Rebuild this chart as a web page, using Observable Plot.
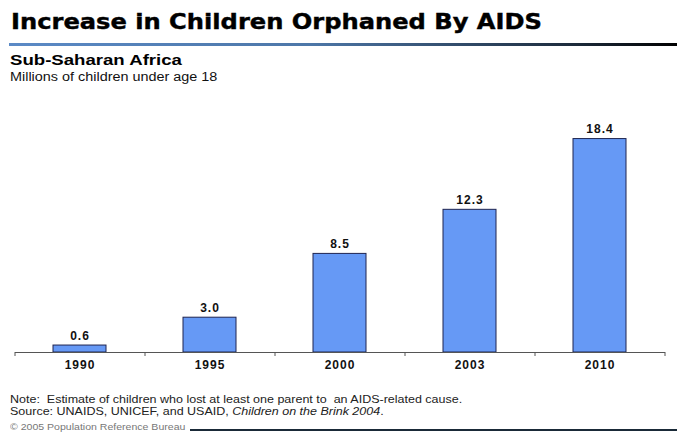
<!DOCTYPE html>
<html>
<head>
<meta charset="utf-8">
<script src="https://cdn.jsdelivr.net/npm/d3@7"></script>
<script src="https://cdn.jsdelivr.net/npm/@observablehq/plot@0.6"></script>
<style>
  html, body { margin: 0; padding: 0; background: #fff; }
  body { width: 677px; height: 432px; position: relative; overflow: hidden; font-family: "Liberation Sans", Arial, sans-serif; color: #000; }
  .abs { position: absolute; white-space: nowrap; transform-origin: left top; }
  #title { left: 11px; top: 10px; font-family: "DejaVu Sans", sans-serif; font-weight: 900; font-size: 21px; transform: scaleX(1.15); -webkit-text-stroke: 0.4px #000; }
  #rule { left: 9px; top: 43px; width: 668px; height: 3px; background: linear-gradient(to right, #5b8ac6 0%, #4d77a8 45%, #1c2a3a 85%, #000 100%); }
  #sub { left: 10px; top: 51px; font-weight: bold; font-size: 15.5px; transform: scaleX(1.2); }
  #unit { left: 10px; top: 70px; font-size: 12px; color: #111; transform: scaleX(1.2); }
  #chart { left: 0; top: 90px; }
  #chart text { letter-spacing: 1px; }
  #note { left: 10px; top: 393px; font-size: 10.5px; line-height: 12px; color: #222; transform: scaleX(1.19); }
  #copy { left: 10px; top: 422px; font-size: 8.5px; color: #777; transform: scaleX(1.24); }
  #foot { left: 190px; top: 429px; width: 487px; height: 2px; background: #1a2a38; }
</style>
</head>
<body>
<div id="title" class="abs">Increase in Children Orphaned By AIDS</div>
<div id="rule" class="abs"></div>
<div id="sub" class="abs">Sub-Saharan Africa</div>
<div id="unit" class="abs">Millions of children under age 18</div>
<div id="chart" class="abs"></div>
<div id="note" class="abs">Note:&nbsp; Estimate of children who lost at least one parent to&nbsp; an AIDS-related cause.<br>Source: UNAIDS, UNICEF, and USAID, <i>Children on the Brink 2004</i>.</div>
<div id="copy" class="abs">© 2005 Population Reference Bureau</div>
<div id="foot" class="abs"></div>
<script>
const years = ["1990", "1995", "2000", "2003", "2010"];
const values = [0.6, 3.0, 8.5, 12.3, 18.4];
const valueLabels = ["0.6", "3.0", "8.5", "12.3", "18.4"];

const data = years.map((y, i) => ({year: y, value: values[i], label: valueLabels[i]}));
const lastYear = [years[years.length - 1]];

const chart = Plot.plot({
  width: 677,
  height: 295,
  marginLeft: 15,
  marginRight: 12,
  marginTop: 30,
  marginBottom: 33,
  style: {fontFamily: "'Liberation Sans', Arial, sans-serif", background: "transparent", overflow: "visible"},
  x: {domain: years, paddingInner: 0.59, paddingOuter: 0.295, label: null},
  y: {domain: [0, 20], axis: null},
  marks: [
    Plot.barY(data, {x: "year", y: "value", fill: "#6699f5", stroke: "#1e2450", strokeWidth: 1}),
    Plot.ruleY([0], {stroke: "#555", strokeWidth: 1}),
    Plot.ruleX(years, {x: d => d, y1: 0, y2: 0, dx: -65, insetBottom: -4, stroke: "#555"}),
    Plot.ruleX(lastYear, {x: d => d, y1: 0, y2: 0, dx: 65, insetBottom: -4, stroke: "#555"}),
    Plot.text(data, {x: "year", y: "value", text: "label", dy: -6, lineAnchor: "bottom", fontWeight: "bold", fontSize: 12, fill: "#111"}),
    Plot.axisX({tickSize: 0, tickPadding: 8, fontWeight: "bold", fontSize: 12, fill: "#111", label: null})
  ]
});
document.getElementById("chart").appendChild(chart);
</script>
</body>
</html>
